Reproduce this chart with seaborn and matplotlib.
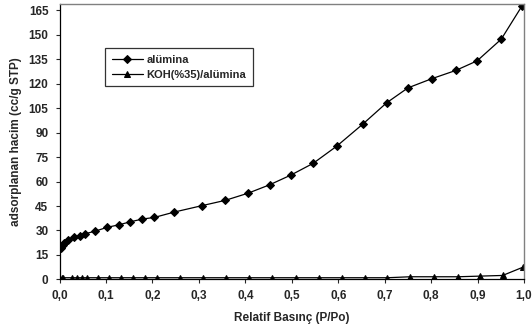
import numpy as np
import pandas as pd

import matplotlib
matplotlib.use('Agg')
import matplotlib.pyplot as plt
import seaborn as sns

# alumina isotherm
alumina_x = [0.003, 0.007, 0.010, 0.019, 0.031, 0.043, 0.055, 0.077, 0.102, 0.128,
             0.152, 0.178, 0.204, 0.247, 0.306, 0.357, 0.406, 0.452, 0.498, 0.546,
             0.597, 0.653, 0.704, 0.750, 0.801, 0.853, 0.899, 0.951, 0.995]
alumina_y = [19.4, 21.0, 22.1, 23.9, 25.8, 26.7, 28.0, 29.6, 31.9, 33.5,
             35.3, 37.0, 38.0, 41.3, 45.2, 48.5, 52.9, 58.0, 64.0, 71.2,
             81.8, 95.3, 108.3, 117.5, 123.1, 128.2, 134.1, 147.4, 167.5]

# KOH(%35)/alumina isotherm
koh_x = [0.005, 0.008, 0.026, 0.038, 0.048, 0.060, 0.082, 0.107, 0.133, 0.158,
         0.183, 0.209, 0.259, 0.308, 0.358, 0.408, 0.457, 0.509, 0.558, 0.608,
         0.658, 0.706, 0.755, 0.807, 0.858, 0.906, 0.954, 0.998]
koh_y = [1.0, 1.0, 1.0, 1.0, 1.0, 1.0, 1.0, 1.0, 1.0, 1.0,
         1.0, 1.0, 1.0, 1.0, 1.0, 1.0, 1.0, 1.0, 1.0, 1.0,
         1.0, 1.0, 1.6, 1.6, 1.6, 2.0, 2.4, 7.5]

x_ticks = [0.0, 0.1, 0.2, 0.3, 0.4, 0.5, 0.6, 0.7, 0.8, 0.9, 1.0]
y_ticks = [0, 15, 30, 45, 60, 75, 90, 105, 120, 135, 150, 165]

sns.set_style('white')
plt.rcParams['font.family'] = ['Liberation Sans', 'DejaVu Sans']
plt.rcParams['font.weight'] = 'bold'

df_al = pd.DataFrame({'x': alumina_x, 'y': alumina_y})
df_koh = pd.DataFrame({'x': koh_x, 'y': koh_y})

fig = plt.figure(figsize=(5.32, 3.31), dpi=100)
ax = fig.add_axes([0.112, 0.156, 0.873, 0.832])

sns.lineplot(data=df_al, x='x', y='y', ax=ax, color='black', linewidth=0.9,
             marker='D', markersize=4, markeredgecolor='black', sort=False,
             label='alümina')
sns.lineplot(data=df_koh, x='x', y='y', ax=ax, color='black', linewidth=0.9,
             marker='^', markersize=5, markeredgecolor='black', sort=False,
             label='KOH(%35)/alümina')

ax.set_xlim(0, 1.0)
ax.set_ylim(0, 169)
ax.set_xticks(x_ticks)
ax.set_xticklabels([('%.1f' % t).replace('.', ',') for t in x_ticks])
ax.set_yticks(y_ticks)
ax.tick_params(axis='both', labelsize=8.5, length=3, width=0.8, direction='out',
               bottom=True, left=True, pad=5)
for lab in ax.get_xticklabels() + ax.get_yticklabels():
    lab.set_fontweight('bold')

ax.set_xlabel('Relatif Basınç (P/Po)', fontsize=8.5, fontweight='bold', labelpad=7)
ax.set_ylabel('adsorplanan hacim (cc/g STP)', fontsize=8.5, fontweight='bold', labelpad=5)

for s in ['left', 'bottom']:
    ax.spines[s].set_color('black')
    ax.spines[s].set_linewidth(0.9)
for s in ['top', 'right']:
    ax.spines[s].set_color('#808080')
    ax.spines[s].set_linewidth(1.0)

leg = ax.legend(loc='upper left', bbox_to_anchor=(0.098, 0.84), fontsize=8,
                frameon=True, fancybox=False, edgecolor='black', handlelength=2.8,
                borderpad=0.6, labelspacing=0.45, handletextpad=0.3, borderaxespad=0)
leg.get_frame().set_linewidth(0.9)
for t in leg.get_texts():
    t.set_fontweight('bold')

plt.savefig('out.png', dpi=100)
